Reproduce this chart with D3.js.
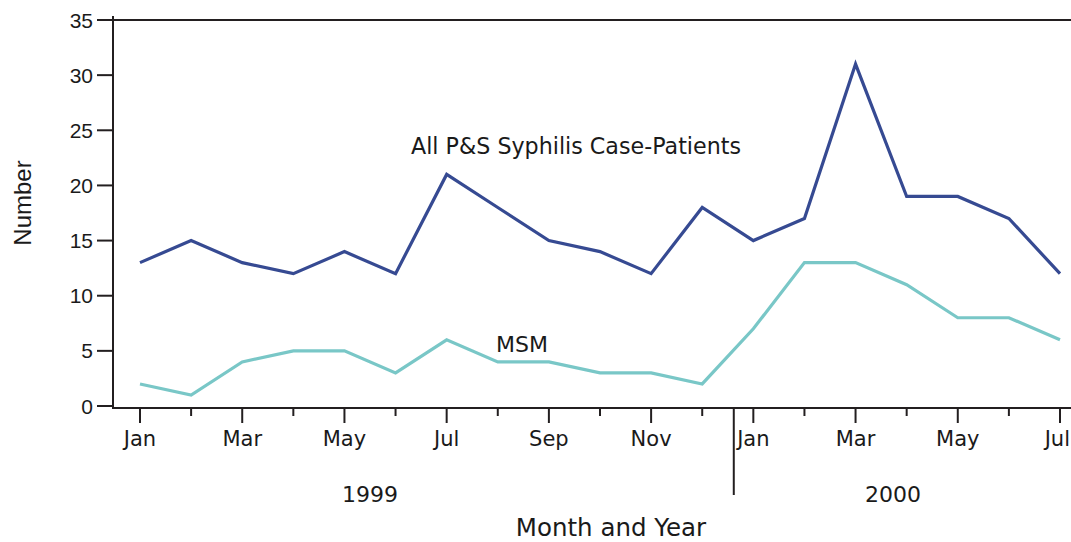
<!DOCTYPE html>
<html><head><meta charset="utf-8">
<script src="https://cdn.jsdelivr.net/npm/d3@7"></script>
<style>body{margin:0;background:#fff}text{font-family:"DejaVu Sans",sans-serif;fill:#1a1a1a}.h{font-family:"Liberation Sans",Arial,sans-serif}</style>
</head><body><svg id="c" width="1071" height="542"></svg>
<script>
const months = ["Jan","Feb","Mar","Apr","May","Jun","Jul","Aug","Sep","Oct","Nov","Dec","Jan","Feb","Mar","Apr","May","Jun","Jul"];
const allPS = [13,15,13,12,14,12,21,18,15,14,12,18,15,17,31,19,19,17,12];
const msm = [2,1,4,5,5,3,6,4,4,3,3,2,7,13,13,11,8,8,6];
const yTicks = [0,5,10,15,20,25,30,35];
const years = ["1999","2000"];

const W = 1071;
const svg = d3.select("#c");
const x = d3.scaleLinear().domain([0, months.length-1]).range([140, 1060]);
const y = d3.scaleLinear().domain([0, 35]).range([406, 20]);
const ink = "#231f20";

svg.append("line").attr("x1",97).attr("x2",W).attr("y1",y(35)).attr("y2",y(35)).attr("stroke",ink).attr("stroke-width",2);
svg.append("line").attr("x1",113).attr("x2",113).attr("y1",16).attr("y2",409).attr("stroke",ink).attr("stroke-width",2);
svg.append("line").attr("x1",112).attr("x2",W).attr("y1",408).attr("y2",408).attr("stroke",ink).attr("stroke-width",2);

const yg = svg.append("g");
yTicks.forEach(t=>{
  yg.append("line").attr("x1",97).attr("x2",113).attr("y1",y(t)).attr("y2",y(t)).attr("stroke",ink).attr("stroke-width",2);
  yg.append("text").attr("class","h").attr("x",93).attr("y",y(t)).attr("dy","0.36em").attr("text-anchor","end").attr("font-size",21).text(t);
});

months.forEach((m,i)=>{
  const major = i%2===0;
  svg.append("line").attr("x1",x(i)).attr("x2",x(i)).attr("y1",408).attr("y2",major?423:416).attr("stroke",ink).attr("stroke-width",2);
  if(major){
    const t = svg.append("text").attr("x",x(i)).attr("y",446).attr("text-anchor","middle").attr("font-size",21).text(m);
    const len = t.node().getComputedTextLength();
    if (x(i) + len/2 > W - 1) t.attr("text-anchor","end").attr("x", W - 1);
  }
});
const divX = (x(11)+x(12))/2 + 6;
svg.append("line").attr("x1",divX).attr("x2",divX).attr("y1",408).attr("y2",495).attr("stroke",ink).attr("stroke-width",2);
svg.append("text").attr("x",370).attr("y",502).attr("text-anchor","middle").attr("font-size",22).text(years[0]);
svg.append("text").attr("x",893).attr("y",502).attr("text-anchor","middle").attr("font-size",22).text(years[1]);

svg.append("text").attr("x",611).attr("y",536).attr("text-anchor","middle").attr("font-size",24.5).text("Month and Year");
svg.append("text").attr("class","h").attr("transform","translate(31,203) rotate(-90)").attr("text-anchor","middle").attr("font-size",24).text("Number");

const line = d3.line().x((d,i)=>x(i)).y(d=>y(d));
svg.append("path").datum(msm).attr("d",line).attr("fill","none").attr("stroke","#79c7c7").attr("stroke-width",3.2);
svg.append("path").datum(allPS).attr("d",line).attr("fill","none").attr("stroke","#364a92").attr("stroke-width",3.2);

svg.append("text").attr("x",411).attr("y",154).attr("font-size",22.2).text("All P&S Syphilis Case-Patients");
svg.append("text").attr("x",496).attr("y",352).attr("font-size",22).text("MSM");
</script></body></html>
